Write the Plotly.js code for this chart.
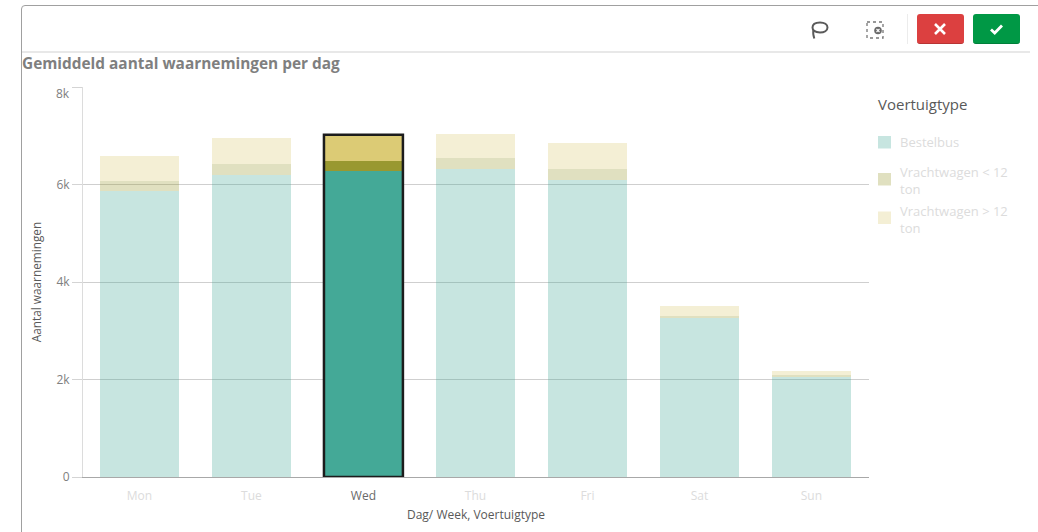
<!DOCTYPE html>
<html>
<head>
<meta charset="utf-8">
<script src="https://cdn.plot.ly/plotly-3.0.1.min.js"></script>
<style>
  html, body { margin: 0; padding: 0; background: #fff; }
  #frame { position: relative; width: 1038px; height: 532px; overflow: hidden; }
  #chart { position: absolute; left: 0; top: 0; width: 1038px; height: 532px; }
  .panel { position: absolute; left: 21px; top: 5px; width: 1030px; height: 540px;
           border: 1px solid #a0a0a0; border-radius: 4px; box-sizing: border-box; }
  .divider { position: absolute; left: 22px; top: 51px; width: 1008px; height: 2px; background: #e8e8e8; }
  .sep { position: absolute; left: 907px; top: 14px; width: 1px; height: 30px; background: #ececec; }
  .btn { position: absolute; top: 14px; width: 47px; height: 30px; border-radius: 3px; box-sizing: border-box; }
  .cancel { left: 917px; background: #dc4040; border-bottom: 1px solid #b83434; }
  .confirm { left: 973px; background: #009845; border-bottom: 1px solid #007f3a; }
  .btn svg, .tool { position: absolute; }
</style>
</head>
<body>
<div id="frame">
  <div id="chart"></div>
  <div class="panel"></div>
  <div class="divider"></div>
  <svg class="tool" style="left:809px;top:19px" width="22" height="22" viewBox="0 0 22 22" fill="none" stroke="#5a5a5a" stroke-width="2">
    <path d="M3.500 8.500C3.500 5 6.500 3.500 11 3.500s7.500 2 7.500 5-3.200 5-7.500 5c-2.500 0-4.500-.6-5.800-1.600C4.100 11.100 3.500 9.900 3.500 8.500z"/>
    <path d="M4.500 11c-.7 2.500-.3 5 .8 8.500"/>
  </svg>
  <svg class="tool" style="left:865px;top:20px" width="20" height="20" viewBox="0 0 20 20" fill="none">
    <rect x="2" y="2" width="16" height="16" stroke="#777" stroke-width="1.300" stroke-dasharray="3 3"/>
    <circle cx="13" cy="10.500" r="3.800" fill="#6a6a6a"/>
    <path d="M11.500 9l3 3M14.500 9l-3 3" stroke="#fff" stroke-width="1.100"/>
  </svg>
  <div class="sep"></div>
  <div class="btn cancel">
    <svg style="left:16px;top:8px" width="14" height="14" viewBox="0 0 14 14"><path d="M2 2l10 10M12 2L2 12" stroke="#fff" stroke-width="2.600"/></svg>
  </div>
  <div class="btn confirm">
    <svg style="left:16px;top:8px" width="15" height="14" viewBox="0 0 15 14"><path d="M2 7.500l3.700 3.500L13 3.500" stroke="#fff" stroke-width="2.800" fill="none"/></svg>
  </div>
</div>
<script>
// Average number of observations per weekday, split by vehicle type.
const days = ['Mon', 'Tue', 'Wed', 'Thu', 'Fri', 'Sat', 'Sun'];
const selectedDay = 'Wed';
const vanValues = [5870, 6190, 6280, 6320, 6090, 3255, 2050];
const lightTruckValues = [200, 240, 210, 220, 230, 55, 40];
const heavyTruckValues = [510, 520, 530, 490, 540, 200, 80];
const seriesNames = ['Bestelbus', 'Vrachtwagen &lt; 12<br>ton', 'Vrachtwagen &gt; 12<br>ton'];
const seriesColors = ['68,169,151', '153,152,48', '220,203,117'];
const yTicks = [0, 2000, 4000, 6000, 8000];
const yTickLabels = ['0', '2k', '4k', '6k', ''];
const legendTitle = 'Voertuigtype';
const dimOpacity = 0.3;

const FONT = '"Open Sans", "Noto Sans", sans-serif';
const selectedIndex = days.indexOf(selectedDay);
const WIDTH = 1038, HEIGHT = 532;
const plot = { left: 83, right: 869, top: 87, bottom: 477 };

// Days outside the selection are dimmed.
function barColors(rgb) {
  return days.map(d => d === selectedDay ? `rgb(${rgb})` : `rgba(${rgb},${dimOpacity})`);
}

const traces = [vanValues, lightTruckValues, heavyTruckValues].map((values, i) => ({
  type: 'bar',
  name: seriesNames[i].replace('<br>', ' '),
  x: days,
  y: values,
  marker: { color: barColors(seriesColors[i]), line: { width: 0 } },
  hoverinfo: 'x+y+name'
}));

const selectedTotal = vanValues[selectedIndex] + lightTruckValues[selectedIndex] + heavyTruckValues[selectedIndex];

// Pixel helpers for the side legend, which sits outside the plot area.
const paperX = px => (px - plot.left) / (plot.right - plot.left);
const paperY = py => (plot.bottom - py) / (plot.bottom - plot.top);

const legendRows = [
  { swatchTop: 136, textY: 142 },
  { swatchTop: 173, textY: 180 },
  { swatchTop: 211.500, textY: 219 }
];

const legendShapes = legendRows.map((row, i) => ({
  type: 'rect', xref: 'paper', yref: 'paper', layer: 'above',
  x0: paperX(878), x1: paperX(891),
  y0: paperY(row.swatchTop + 12.500), y1: paperY(row.swatchTop),
  line: { width: 0 },
  fillcolor: `rgba(${seriesColors[i]},${dimOpacity})`
}));

const legendLabels = legendRows.map((row, i) => ({
  text: seriesNames[i],
  xref: 'paper', yref: 'paper',
  x: paperX(898), y: paperY(row.textY),
  xanchor: 'left', yanchor: 'middle', align: 'left',
  showarrow: false,
  font: { size: 13, color: '#dcdcdc' }
}));

const layout = {
  width: WIDTH,
  height: HEIGHT,
  margin: { l: plot.left, r: WIDTH - plot.right, t: plot.top, b: HEIGHT - plot.bottom, pad: 0 },
  paper_bgcolor: 'rgba(0,0,0,0)',
  plot_bgcolor: 'rgba(0,0,0,0)',
  font: { family: FONT, color: '#808080', size: 12 },
  barmode: 'stack',
  bargap: 0.295,
  showlegend: false,
  title: {
    text: '<b>Gemiddeld aantal waarnemingen per dag</b>',
    x: 22 / WIDTH, xref: 'container', xanchor: 'left',
    y: 1 - 64 / HEIGHT, yref: 'container', yanchor: 'middle',
    font: { family: FONT, size: 15.400, color: '#7f7f7f' }
  },
  xaxis: {
    type: 'category',
    categoryorder: 'array',
    categoryarray: days,
    range: [-0.504, 6.514],
    tickmode: 'array',
    tickvals: days,
    ticktext: days.map(d => `<span style="color:${d === selectedDay ? '#6a6a6a' : '#dcdcdc'}">${d}</span>`),
    ticks: '',
    ticklabelstandoff: 8,
    tickfont: { size: 12 },
    showgrid: false,
    showline: true,
    linecolor: '#a8a8a8',
    linewidth: 1,
    zeroline: false,
    title: { text: 'Dag/ Week, Voertuigtype', font: { size: 12, color: '#595959' }, standoff: 7 }
  },
  yaxis: {
    range: [0, 8000],
    tickmode: 'array',
    tickvals: yTicks,
    ticktext: yTickLabels,
    ticks: 'outside',
    ticklen: 10,
    tickcolor: '#d4d4d4',
    tickfont: { size: 12, color: '#808080' },
    showgrid: true,
    gridcolor: '#cfcfcf',
    gridwidth: 1,
    showline: true,
    linecolor: '#dcdcdc',
    linewidth: 1,
    zeroline: false,
    title: { text: 'Aantal waarnemingen', font: { size: 11.800, color: '#595959' }, standoff: 12 }
  },
  // Outline around the stack of the selected day, plus the legend swatches.
  shapes: [{
    type: 'rect', xref: 'x', yref: 'y', layer: 'above',
    x0: selectedIndex - 0.3525, x1: selectedIndex + 0.3525,
    y0: 0, y1: selectedTotal,
    line: { color: '#1c1c1c', width: 2.500 }, fillcolor: 'rgba(0,0,0,0)'
  }].concat(legendShapes),
  // The top tick label sits just under its gridline.
  annotations: [{
    text: '8k', xref: 'paper', yref: 'y', x: 0, y: 8000,
    xanchor: 'right', yanchor: 'top', xshift: -11, yshift: 4,
    showarrow: false, font: { size: 12, color: '#808080' }
  }, {
    text: legendTitle, xref: 'paper', yref: 'paper',
    x: paperX(876), y: paperY(104),
    xanchor: 'left', yanchor: 'middle',
    showarrow: false, font: { size: 15, color: '#595959' }
  }].concat(legendLabels)
};

Plotly.newPlot('chart', traces, layout, { displayModeBar: false, responsive: false });
</script>
</body>
</html>
